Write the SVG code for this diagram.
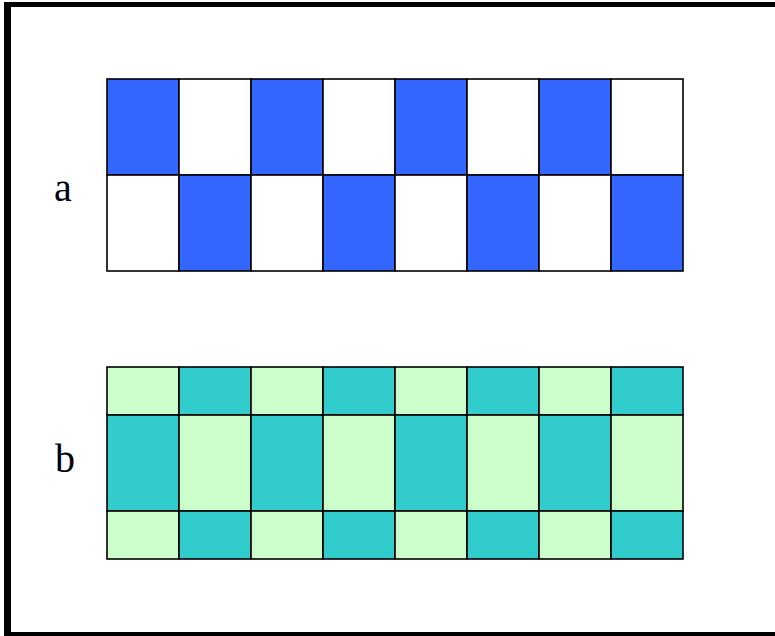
<svg xmlns="http://www.w3.org/2000/svg" width="775" height="636" viewBox="0 0 775 636">
<style>
.c{stroke:#000;stroke-width:1.6}
.bl{fill:#3366FF}.w{fill:#FFFFFF}.g{fill:#CCFFCC}.t{fill:#33CCCC}
.lbl{font-family:"Liberation Serif","Times New Roman",serif;font-size:40px;fill:#000}
</style>
<rect width="775" height="636" fill="#fff"/>
<g id="frame" fill="#000">
<rect x="4" y="2" width="771" height="5"/>
<rect x="4" y="2" width="7" height="634"/>
<rect x="4" y="632" width="771" height="4"/>
</g>
<g id="gridA">
<rect class="c bl" x="107" y="79" width="72" height="96"/>
<rect class="c w" x="179" y="79" width="72" height="96"/>
<rect class="c bl" x="251" y="79" width="72" height="96"/>
<rect class="c w" x="323" y="79" width="72" height="96"/>
<rect class="c bl" x="395" y="79" width="72" height="96"/>
<rect class="c w" x="467" y="79" width="72" height="96"/>
<rect class="c bl" x="539" y="79" width="72" height="96"/>
<rect class="c w" x="611" y="79" width="72" height="96"/>
<rect class="c w" x="107" y="175" width="72" height="96"/>
<rect class="c bl" x="179" y="175" width="72" height="96"/>
<rect class="c w" x="251" y="175" width="72" height="96"/>
<rect class="c bl" x="323" y="175" width="72" height="96"/>
<rect class="c w" x="395" y="175" width="72" height="96"/>
<rect class="c bl" x="467" y="175" width="72" height="96"/>
<rect class="c w" x="539" y="175" width="72" height="96"/>
<rect class="c bl" x="611" y="175" width="72" height="96"/>
</g>
<g id="gridB">
<rect class="c g" x="107" y="367" width="72" height="48"/>
<rect class="c t" x="179" y="367" width="72" height="48"/>
<rect class="c g" x="251" y="367" width="72" height="48"/>
<rect class="c t" x="323" y="367" width="72" height="48"/>
<rect class="c g" x="395" y="367" width="72" height="48"/>
<rect class="c t" x="467" y="367" width="72" height="48"/>
<rect class="c g" x="539" y="367" width="72" height="48"/>
<rect class="c t" x="611" y="367" width="72" height="48"/>
<rect class="c t" x="107" y="415" width="72" height="96"/>
<rect class="c g" x="179" y="415" width="72" height="96"/>
<rect class="c t" x="251" y="415" width="72" height="96"/>
<rect class="c g" x="323" y="415" width="72" height="96"/>
<rect class="c t" x="395" y="415" width="72" height="96"/>
<rect class="c g" x="467" y="415" width="72" height="96"/>
<rect class="c t" x="539" y="415" width="72" height="96"/>
<rect class="c g" x="611" y="415" width="72" height="96"/>
<rect class="c g" x="107" y="511" width="72" height="48"/>
<rect class="c t" x="179" y="511" width="72" height="48"/>
<rect class="c g" x="251" y="511" width="72" height="48"/>
<rect class="c t" x="323" y="511" width="72" height="48"/>
<rect class="c g" x="395" y="511" width="72" height="48"/>
<rect class="c t" x="467" y="511" width="72" height="48"/>
<rect class="c g" x="539" y="511" width="72" height="48"/>
<rect class="c t" x="611" y="511" width="72" height="48"/>
</g>
<g id="labelA"><text class="lbl" x="54" y="201">a</text></g>
<g id="labelB"><text class="lbl" x="55" y="472">b</text></g>
</svg>
